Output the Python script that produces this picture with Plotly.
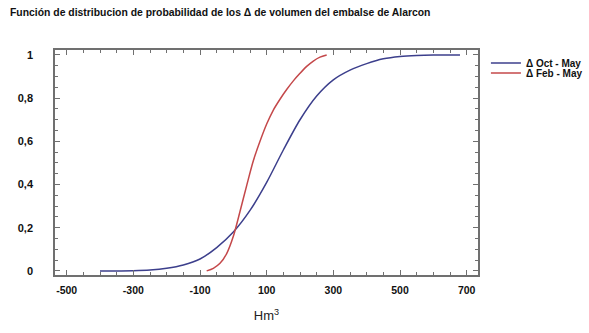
import plotly.graph_objects as go

# Δ Oct - May (Hm3, cumulative probability)
oct_x = [-400, -300, -250, -200, -150, -100, -50, 0, 50, 100, 150, 200, 250, 300, 350, 400, 450, 500, 550, 600, 680]
oct_y = [0.0, 0.001, 0.004, 0.012, 0.027, 0.055, 0.108, 0.18, 0.28, 0.41, 0.56, 0.70, 0.81, 0.885, 0.93, 0.96, 0.982, 0.993, 0.998, 1.0, 1.0]

# Δ Feb - May
feb_x = [-80, -60, -40, -20, 0, 20, 40, 60, 80, 100, 120, 140, 160, 180, 200, 220, 240, 260, 280]
feb_y = [0.0, 0.012, 0.035, 0.08, 0.16, 0.275, 0.395, 0.51, 0.60, 0.68, 0.745, 0.795, 0.84, 0.88, 0.915, 0.947, 0.972, 0.99, 1.0]

x_ticks = [-500, -300, -100, 100, 300, 500, 700]
x_ticktext = ["-500", "-300", "-100", "100", "300", "500", "700"]
y_ticks = [0, 0.2, 0.4, 0.6, 0.8, 1]
y_ticktext = ["0", "0,2", "0,4", "0,6", "0,8", "1"]

title_text = "Función de distribucion de probabilidad de los Δ de volumen del embalse de Alarcon"

fig = go.Figure()
fig.add_trace(go.Scatter(x=oct_x, y=oct_y, mode="lines", name="Δ Oct - May", legend="legend",
                         line=dict(color="#3c3f8c", width=1.5, shape="spline", smoothing=0.8)))
fig.add_trace(go.Scatter(x=feb_x, y=feb_y, mode="lines", name="Δ Feb - May", legend="legend2",
                         line=dict(color="#c4484a", width=1.5, shape="spline", smoothing=0.8)))

FONT = "Liberation Sans, Arial, sans-serif"
axis_common = dict(showgrid=False, zeroline=False, showline=True, linecolor="#707070",
                   linewidth=1.5, mirror="allticks", ticks="inside", ticklen=5,
                   tickcolor="#707070", tickwidth=1, automargin=False)

legend_common = dict(xanchor="left", yanchor="middle", bgcolor="rgba(0,0,0,0)",
                     xref="container", yref="container",
                     font=dict(size=10, family=FONT, color="#111", weight="bold"),
                     itemwidth=30, borderwidth=0)

fig.update_layout(
    width=589, height=333,
    margin=dict(l=55, r=111, t=50, b=58, autoexpand=False),
    paper_bgcolor="white", plot_bgcolor="white",
    font=dict(family=FONT, color="#111"),
    title=dict(text="<b>" + title_text + "</b>", x=0.017, xanchor="left", y=0.962, yanchor="middle",
               font=dict(size=10.4, family=FONT, color="#111")),
    xaxis=dict(range=[-535, 734], tickvals=x_ticks, ticktext=x_ticktext,
               tickfont=dict(size=10.5, family=FONT, color="#111", weight="bold"),
               ticklabelstandoff=5,
               minor=dict(dtick=50, tick0=0, ticks="inside", ticklen=3, tickcolor="#707070", showgrid=False),
               title=dict(text="Hm<sup>3</sup>", font=dict(size=13, family=FONT, color="#222"), standoff=16),
               **axis_common),
    yaxis=dict(range=[-0.019, 1.023], tickvals=y_ticks, ticktext=y_ticktext,
               tickfont=dict(size=11, family=FONT, color="#111", weight="bold"),
               ticklabelstandoff=18,
               minor=dict(dtick=0.05, tick0=0, ticks="inside", ticklen=3, tickcolor="#707070", showgrid=False),
               **axis_common),
    legend=dict(x=0.825, y=0.811, **legend_common),
    legend2=dict(x=0.825, y=0.781, **legend_common),
    showlegend=True,
)

fig.write_html("out.html")
